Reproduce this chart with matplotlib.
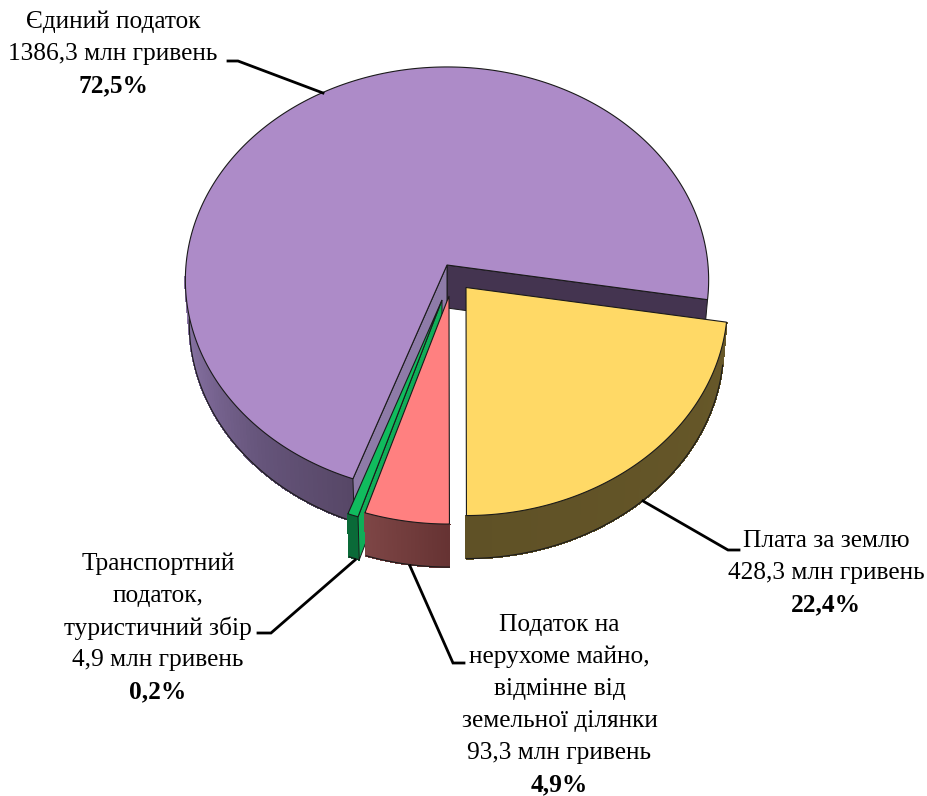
import numpy as np
import matplotlib
matplotlib.use('Agg')
import matplotlib.pyplot as plt
from matplotlib.colors import to_rgb

plt.rcParams['font.family'] = ['Liberation Serif', 'DejaVu Serif']

# slices in drawing order, mln UAH
names = ['Єдиний податок', 'Транспортний податок', 'Податок на нерухоме', 'Плата за землю']
values = [1386.3, 4.9, 93.3, 428.3]
# the thin slice is drawn wider than its share in the picture
thin_angle = 2.2

label_lines = [
    ['Єдиний податок', '1386,3 млн гривень', '72,5%'],
    ['Плата за землю', '428,3 млн гривень', '22,4%'],
    ['Податок на', 'нерухоме майно,', 'відмінне від', 'земельної ділянки', '93,3 млн гривень', '4,9%'],
    ['Транспортний', 'податок,', 'туристичний збір', '4,9 млн гривень', '0,2%'],
]
label_pos = [(113, 22), (826, 541), (559.5, 625), (158, 564)]
leaders = [
    [(228, 61), (238, 61), (323, 93)],
    [(643, 501), (728, 550), (739, 550)],
    [(410, 566), (453, 663), (464, 663)],
    [(355, 560), (271, 633), (258, 633)],
]

# pie projection, pixels
cx, cy = 447, 265
R, A, k = 261, 212, 0.0704
depth = 43
shrink = 0.985
start = -9.3


def project(ang, dx=0, dy=0, bottom=False):
    t = np.radians(ang)
    d = 1 + k * np.sin(t)
    x = R * np.cos(t) / d
    y = A * np.sin(t) / d
    if bottom:
        return cx + dx + x * shrink, cy + dy + depth - y
    return cx + dx + x, cy + dy - y


def apex(dx=0, dy=0, bottom=False):
    return cx + dx, cy + dy + (depth if bottom else 0)


def wall(ax, a0, a1, offset, stops):
    angs = np.linspace(a0, a1, 60)
    lo, hi = min(a0, a1), max(a0, a1)
    rgb = np.array([to_rgb(c) for c in stops])
    pos = np.linspace(lo, hi, len(stops))
    for a, b in zip(angs[:-1], angs[1:]):
        x0, y0 = project(a, *offset)
        x1, y1 = project(b, *offset)
        x2, y2 = project(b, *offset, bottom=True)
        x3, y3 = project(a, *offset, bottom=True)
        m = (a + b) / 2
        col = [np.interp(m, pos, rgb[:, i]) for i in range(3)]
        ax.fill([x0, x1, x2, x3], [y0, y1, y2, y3], facecolor=col, edgecolor=col, lw=0.8,
                antialiased=False, zorder=ax.z)
    xs, ys = project(angs, *offset, bottom=True)
    ax.plot(xs, ys, color='#1a1a1a', lw=0.8, zorder=ax.z + 0.1)
    ax.z += 1


def radial_face(ax, ang, offset, color):
    xa, ya = apex(*offset)
    xb, yb = apex(*offset, bottom=True)
    x0, y0 = project(ang, *offset)
    x1, y1 = project(ang, *offset, bottom=True)
    ax.fill([xa, x0, x1, xb], [ya, y0, y1, yb], facecolor=color, edgecolor='#1a1a1a', lw=0.7, zorder=ax.z)
    ax.z += 1


def top(ax, a0, a1, offset, color):
    angs = np.linspace(a0, a1, 300)
    xs, ys = project(angs, *offset)
    xa, ya = apex(*offset)
    ax.fill(np.r_[xa, xs], np.r_[ya, ys], facecolor=color, edgecolor='#1a1a1a', lw=0.8, zorder=ax.z)
    ax.z += 1


fig = plt.figure(figsize=(9.28, 7.96), dpi=100)
ax = fig.add_axes([0, 0, 1, 1])
ax.set_xlim(0, 928)
ax.set_ylim(796, 0)
ax.axis('off')
ax.z = 2

total = sum(values)
yellow_a = values[3] / total * 360
pink_a = values[2] / total * 360

a_y0, a_y1 = start - yellow_a, start
a_p0, a_p1 = a_y0 - pink_a, a_y0
a_g0, a_g1 = a_p0 - thin_angle, a_p0
a_v0, a_v1 = start, a_g0 + 360

# purple
off = (0, 0)
wall(ax, 183, a_v1, off, ['#8f7aab', '#7c6896', '#65547a', '#574766'])
radial_face(ax, a_v0, off, '#443450')
radial_face(ax, a_v1, off, '#8e7ba8')
top(ax, a_v0, a_v1, off, '#ad8bc8')

# green
off = (-5, 35)
wall(ax, a_g0, a_g1, off, ['#0a6a38', '#0a6a38'])
radial_face(ax, a_g1, off, '#0fae58')
top(ax, a_g0, a_g1, off, '#10bc5e')

# pink
off = (2, 31)
wall(ax, a_p0, a_p1, off, ['#7e4646', '#663333'])
top(ax, a_p0, a_p1, off, '#ff8080')

# yellow
off = (19, 22.5)
wall(ax, a_y0, a_y1, off, ['#5f5126', '#675829'])
top(ax, a_y0, a_y1, off, '#ffd966')

for pts in leaders:
    ax.plot([p[0] for p in pts], [p[1] for p in pts], color='black', lw=2, zorder=50,
            solid_joinstyle='miter')

line_h = 32
for lines, (x, y) in zip(label_lines, label_pos):
    for i, s in enumerate(lines):
        bold = i == len(lines) - 1 and s.endswith('%')
        ax.text(x, y + i * line_h, s, ha='center', va='center', fontsize=18.3,
                fontweight='bold' if bold else 'normal', color='black', zorder=60)

fig.savefig('out.png', dpi=100, facecolor='white')
